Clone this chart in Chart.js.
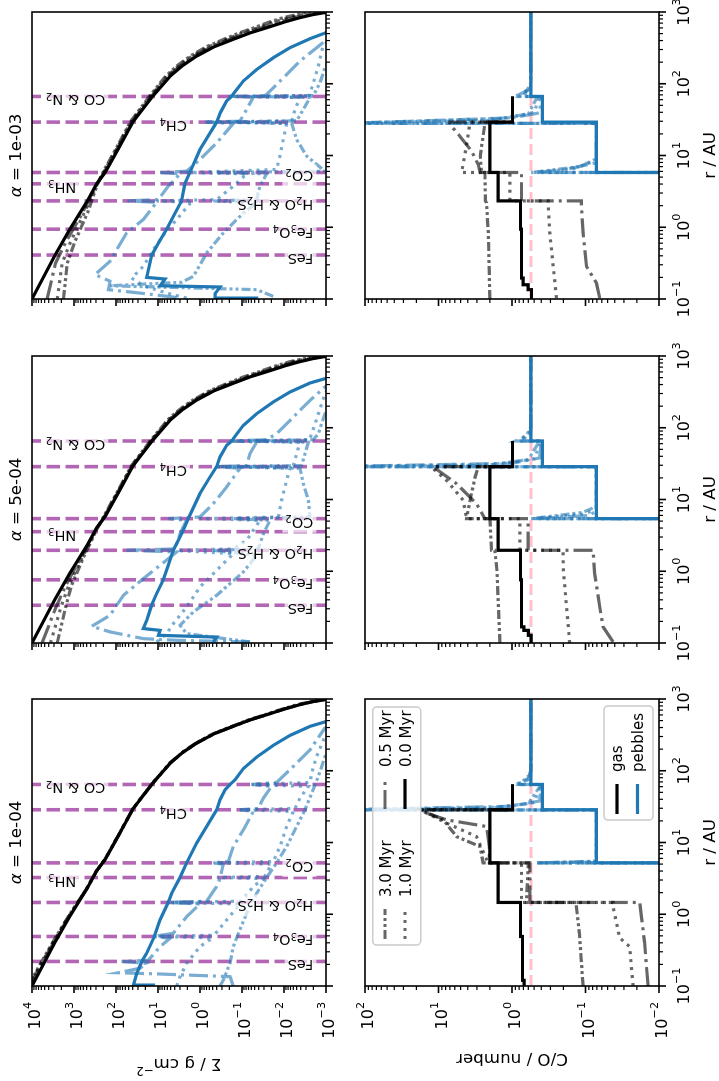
<!DOCTYPE html>
<html>
<head>
<meta charset="utf-8">
<title>Gas and pebble surface density, C/O</title>
<script src="https://cdn.jsdelivr.net/npm/chart.js@4.4.1/dist/chart.umd.min.js"></script>
<style>
  html, body { margin: 0; padding: 0; background: #fff; width: 719px; height: 1081px; overflow: hidden; }
  #fig { position: absolute; left: 0; top: 0; width: 1081px; height: 719px; background: #fff;
         transform-origin: 0 0; transform: translateY(1081px) rotate(-90deg); }
  #fig canvas { position: absolute; }
</style>
</head>
<body>
<div id="fig"></div>
<script>
// ── axes ──────────────────────────────────────────────────────────────────
const rTicks     = [0.1, 1, 10, 100, 1000];
const sigmaTicks = [1e-3, 1e-2, 1e-1, 1, 10, 100, 1e3, 1e4];
const coTicks    = [1e-2, 1e-1, 1, 10, 100];

const alphaLabels = ['1e-04', '5e-04', '1e-03'];
const timeLabels  = ['3.0 Myr', '1.0 Myr', '0.5 Myr', '0.0 Myr'];
const phaseLabels = ['gas', 'pebbles'];

// ── ice lines (AU) ────────────────────────────────────────────────────────
const iceNames     = ['FeS', 'Fe₃O₄', 'H₂O & H₂S', 'NH₃', 'CO₂', 'CH₄', 'CO & N₂'];
const iceTextSigma = [0.002, 0.002, 0.002, 880, 0.002, 2.05, 180];
const iceR_1e4 = [0.22, 0.49, 1.46, 3.25, 5.2, 28.6, 64.4];
const iceR_5e4 = [0.336, 0.76, 1.96, 3.56, 5.41, 28.7, 65.4];
const iceR_1e3 = [0.41, 0.94, 2.33, 4.03, 5.8, 29.2, 66.5];
const solarCO = 0.55;

// ── gas surface density [r, sigma] ────────────────────────────────────────
const gasSig_0 = [[0.1,1.0e4],[0.41,2820],[0.94,1260],[2.33,479],[4.03,288],[5.8,182],[12.6,87],[29.2,39.8],[66.5,13.5],[128,5.1],[180,2.57],[243,1.2],[330,0.45],[416,0.162],[510,0.065],[604,0.0257],[720,0.0102],[834,0.0042],[920,0.00204],[1000,0.00089]];

const gasSig_1e4_05 = [[0.1,1.15e4],[0.41,3000],[0.94,1300],[2.33,479],[4.03,288],[5.8,182],[12.6,87],[29.2,39.8],[66.5,13.5],[128,5.1],[180,2.57],[243,1.2],[330,0.45],[416,0.162],[510,0.065],[604,0.0257],[720,0.0102],[834,0.0042],[920,0.00204],[1000,0.00089]];
const gasSig_1e4_10 = [[0.1,1.2e4],[0.41,3100],[0.94,1330],[2.33,485],[4.03,290],[5.8,183],[12.6,87.5],[29.2,40],[66.5,13.6],[128,5.15],[180,2.6],[243,1.22],[330,0.46],[416,0.166],[510,0.067],[604,0.0266],[720,0.0106],[834,0.0044],[920,0.00215],[1000,0.00094]];
const gasSig_1e4_30 = [[0.1,1.25e4],[0.41,3200],[0.94,1350],[2.33,490],[4.03,292],[5.8,184],[12.6,88],[29.2,40.3],[66.5,13.8],[128,5.25],[180,2.66],[243,1.26],[330,0.48],[416,0.175],[510,0.071],[604,0.0283],[720,0.0114],[834,0.0048],[920,0.00235],[1000,0.00104]];

const gasSig_5e4_05 = [[0.1,5750],[0.316,2690],[0.63,1580],[1.58,676],[3.7,309],[5.8,186],[12.6,89.3],[29.2,41.0],[66.5,14.0],[128,5.38],[180,2.72],[243,1.29],[330,0.486],[416,0.18],[510,0.0728],[604,0.0295],[720,0.012],[834,0.00501],[1000,0.0011]];
const gasSig_5e4_10 = [[0.1,3630],[0.316,2040],[0.63,1350],[1.58,631],[3.7,302],[5.8,191],[12.6,91.6],[29.2,42.2],[66.5,14.5],[128,5.64],[180,2.88],[243,1.38],[330,0.531],[416,0.2],[510,0.0822],[604,0.0339],[720,0.0141],[834,0.00603],[1000,0.00137]];
const gasSig_5e4_30 = [[0.1,2510],[0.316,1580],[0.63,1150],[1.58,589],[3.7,295],[5.8,196],[12.6,94],[29.2,43.4],[66.5,15.0],[128,5.92],[180,3.05],[243,1.48],[330,0.578],[416,0.221],[510,0.0927],[604,0.0389],[720,0.0166],[834,0.00724],[1000,0.00169]];

const gasSig_1e3_05 = [[0.1,4370],[0.316,2750],[0.63,1550],[1.58,631],[3.98,288],[5.8,191],[12.6,91.2],[29.2,42.2],[66.5,14.5],[128,5.62],[180,2.88],[243,1.38],[330,0.531],[416,0.2],[510,0.0822],[604,0.0339],[720,0.0141],[834,0.00603],[1000,0.00137]];
const gasSig_1e3_10 = [[0.1,2510],[0.316,1910],[0.63,1200],[1.58,575],[3.98,282],[5.8,198],[12.6,95.3],[29.2,44.1],[66.5,15.3],[128,6.05],[180,3.15],[243,1.53],[330,0.604],[416,0.233],[510,0.0986],[604,0.0417],[720,0.018],[834,0.00794],[1000,0.00189]];
const gasSig_1e3_30 = [[0.1,1780],[0.316,1450],[0.63,955],[1.58,479],[3.98,275],[5.8,206],[12.6,98.9],[29.2,46],[66.5,16.1],[128,6.52],[180,3.43],[243,1.70],[330,0.689],[416,0.272],[510,0.118],[604,0.0513],[720,0.0229],[834,0.0105],[1000,0.0026]];

// ── pebble surface density [r, sigma] ─────────────────────────────────────
const pebSig_1e4_0  = [[0.101,12.9],[0.103,38.6],[0.150,32.2],[0.219,24.5],[0.286,18.6],[0.49,12.2],[0.834,8.96],[1.46,5.68],[1.96,4.73],[3.25,2.99],[5.2,2.08],[9.8,1.2],[16.7,0.694],[28.6,0.401],[39.4,0.334],[54.3,0.254],[64.4,0.193],[74.8,0.147],[107,0.093],[155,0.0448],[226,0.018],[311,0.0072],[416,0.0024],[488,0.00096],[560,0.0004]];
const pebSig_1e4_05 = [[0.1,0.161],[0.135,0.193],[0.147,8.96],[0.153,87.9],[0.177,26.8],[0.207,18.6],[0.22,73.3],[0.228,17.0],[0.354,8.96],[0.462,5.18],[0.49,12.9],[0.543,4.32],[0.927,2.08],[1.39,1.0],[1.46,6.22],[1.52,0.694],[2.43,0.401],[3.15,0.334],[4.99,0.278],[5.2,0.482],[5.43,0.211],[8.79,0.161],[15.0,0.0929],[27.1,0.0537],[28.6,0.112],[29.8,0.0408],[41.6,0.031],[60.4,0.0197],[64.4,0.0589],[68.7,0.015],[115,0.006],[196,0.0024],[394,0.00106],[480,0.0005]];
const pebSig_1e4_10 = [[0.1,3.6],[0.135,2.99],[0.207,2.08],[0.354,1.0],[0.47,0.5],[0.49,12.9],[0.51,0.46],[0.834,0.232],[1.39,0.112],[1.46,6.22],[1.52,0.104],[2.43,0.0537],[3.15,0.031],[3.25,0.401],[3.36,0.029],[4.99,0.0197],[5.2,0.482],[5.43,0.018],[8.79,0.0125],[16.7,0.00865],[27.1,0.006],[28.6,0.112],[29.8,0.00547],[41.6,0.00416],[60.4,0.00263],[64.4,0.0589],[68.7,0.0024],[92.7,0.0022],[158,0.00167],[301,0.00106],[380,0.0008]];
const pebSig_1e4_30 = [[0.1,0.334],[0.121,0.278],[0.207,0.193],[0.354,0.161],[0.543,0.122],[1.03,0.0774],[1.96,0.0448],[3.25,0.0259],[5.2,0.015],[8.79,0.00865],[16.7,0.005],[28.6,0.00316],[48.8,0.00219],[83.4,0.00152],[158,0.00106],[200,0.0008]];

const pebSig_5e4_0  = [[0.1035,0.482],[0.121,0.401],[0.128,9.8],[0.150,8.96],[0.159,22.3],[0.207,18.6],[0.336,14.2],[0.488,10.8],[0.76,7.46],[1.21,5.68],[1.96,4.32],[3.56,2.59],[5.41,1.9],[12.1,1.0],[20.6,0.578],[28.7,0.401],[39.2,0.334],[56.9,0.232],[65.4,0.176],[76,0.147],[108,0.093],[157,0.0448],[229,0.018],[315,0.0072],[421,0.0024],[483,0.00106],[560,0.0004]];
const pebSig_5e4_05 = [[0.1035,0.0646],[0.109,3.6],[0.115,22.3],[0.143,139],[0.171,379],[0.243,139],[0.462,66.8],[0.789,22.3],[1.21,8.96],[1.86,3.6],[1.96,55.7],[2.05,3.94],[3.34,2.99],[5.13,2.08],[5.41,5.68],[5.71,1.0],[8.75,0.482],[15.0,0.232],[27.2,0.112],[28.7,0.401],[29.6,0.0774],[43.6,0.0646],[63.4,0.0448],[65.4,0.193],[68.2,0.0259],[82.8,0.015],[141,0.006],[241,0.0024],[370,0.00106],[450,0.0005]];
const pebSig_5e4_10 = [[0.1035,10.8],[0.135,6.22],[0.186,4.32],[0.318,2.08],[0.604,1.0],[1.03,0.401],[1.76,0.161],[1.96,4.32],[2.05,0.161],[2.7,0.0774],[5.13,0.0373],[5.41,1.0],[5.71,0.0136],[9.75,0.0114],[18.5,0.00865],[27.2,0.0072],[28.7,0.401],[29.6,0.006],[43.6,0.005],[62.7,0.00416],[65.4,0.193],[68.2,0.0025],[82.8,0.00219],[157,0.00152],[299,0.00106],[380,0.0008]];
const pebSig_5e4_30 = [[0.1035,0.0646],[0.135,2.08],[0.177,2.99],[0.271,1.44],[0.462,0.401],[0.977,0.093],[1.67,0.0448],[1.96,0.482],[2.05,0.0408],[3.34,0.031],[5.13,0.0215],[5.41,0.161],[5.71,0.0024],[9.75,0.00263],[16.6,0.00347],[27.2,0.00416],[28.7,0.112],[29.6,0.0038],[43.6,0.00316],[62.7,0.00263],[65.4,0.0537],[68.2,0.002],[82.8,0.00152],[157,0.00106],[200,0.0008]];

const pebSig_1e3_0  = [[0.102,0.0447],[0.103,0.437],[0.119,0.437],[0.147,0.331],[0.153,8.9],[0.19,6.8],[0.2,18.6],[0.41,14.1],[0.60,9.8],[0.94,6.2],[1.42,4.3],[2.33,2.75],[4.03,2.29],[5.8,1.74],[12.1,1.0],[20.7,0.575],[29.2,0.40],[39.4,0.33],[57.3,0.234],[66.5,0.178],[76.6,0.148],[109,0.093],[158,0.0447],[231,0.0178],[318,0.00724],[425,0.0024],[515,0.001],[630,0.00032]];
const pebSig_1e3_05 = [[0.105,3.6],[0.121,26.8],[0.135,152],[0.177,139],[0.219,316],[0.336,139],[0.834,55.7],[1.28,22.3],[2.23,10.8],[2.33,55.7],[2.43,9.8],[3.73,5.68],[5.55,2.99],[5.8,8.96],[6.04,2.08],[8.79,1.0],[15.0,0.401],[28.0,0.161],[29.2,0.76],[30.1,0.112],[43.9,0.0774],[65.2,0.0537],[66.5,0.193],[67.3,0.031],[71,0.0259],[121,0.0104],[207,0.00416],[394,0.00106],[480,0.0005]];
const pebSig_1e3_10 = [[0.103,2.08],[0.121,6.22],[0.153,22.3],[0.196,42.4],[0.286,22.3],[0.488,12.9],[0.834,6.81],[1.28,3.6],[2.14,1.73],[2.23,1.44],[2.33,10.8],[2.43,0.401],[3.73,0.161],[5.55,0.0774],[5.8,2.08],[6.38,0.015],[9.8,0.0125],[16.7,0.0104],[28.0,0.00865],[29.2,0.694],[30.5,0.00656],[43.9,0.00547],[64.4,0.00416],[66.5,0.211],[68.7,0.0025],[103,0.002],[177,0.00152],[318,0.00121],[400,0.0009]];
const pebSig_1e3_30 = [[0.109,0.018],[0.135,0.0448],[0.153,139],[0.171,2.73],[0.207,1.44],[0.438,0.694],[0.834,0.278],[1.58,0.093],[2.19,0.0448],[2.33,0.48],[2.43,0.0448],[3.73,0.0373],[5.55,0.0259],[5.8,0.4],[6.04,0.00106],[9.8,0.00288],[16.7,0.005],[28.0,0.00656],[29.2,0.161],[30.5,0.005],[43.9,0.00347],[64.4,0.0024],[66.5,0.0537],[68.7,0.002],[103,0.00139],[167,0.00106],[220,0.0008]];

// ── gas C/O [r, C/O] ──────────────────────────────────────────────────────
const gasCO_1e4_0  = [[0.1,0.684],[0.12,0.684],[0.12,0.72],[0.49,0.72],[0.49,0.766],[1.46,0.766],[1.46,1.54],[5.2,1.54],[5.2,2.0],[28.6,2.0],[28.6,0.984],[64.4,0.984]];
const gasCO_1e4_05 = [[0.1,0.0141],[0.4,0.0157],[1.0,0.0175],[1.46,0.0183],[1.46,0.573],[5.2,0.573],[5.2,2.04],[8.79,2.04],[16.7,2.22],[20.7,7.76],[25.6,14.5],[28.6,17],[28.6,0.984],[64.4,0.984]];
const gasCO_1e4_10 = [[0.1,0.0225],[0.354,0.0251],[0.47,0.0343],[1.28,0.0422],[1.46,0.0422],[1.46,0.743],[5.2,0.743],[5.2,2.11],[12.1,3.04],[18.6,7.76],[27.1,16.1],[28.6,16.1],[28.6,0.984],[64.4,0.984]];
const gasCO_1e4_30 = [[0.1,0.108],[0.543,0.121],[1.28,0.133],[1.46,0.133],[1.46,0.635],[5.2,0.6],[5.2,2.47],[8.79,2.73],[12.1,5.68],[20.7,8.6],[28.0,17],[28.6,17],[28.6,0.984],[64.4,0.984]];

const gasCO_5e4_0  = [[0.1,0.55],[0.128,0.55],[0.128,0.6],[0.150,0.6],[0.150,0.69],[0.168,0.69],[0.168,0.743],[0.76,0.743],[0.76,0.766],[1.96,0.766],[1.96,1.54],[5.41,1.54],[5.41,2.0],[28.7,2.0],[28.7,0.984],[65.4,0.984]];
const gasCO_5e4_05 = [[0.1035,0.0422],[0.135,0.05],[0.168,0.0577],[0.318,0.064],[0.927,0.075],[1.96,0.0789],[1.96,0.603],[5.41,0.603],[5.41,2.34],[8.75,3.04],[16.6,5.68],[28.5,11.8],[28.7,11.8],[28.7,0.984],[65.4,0.984]];
const gasCO_5e4_10 = [[0.1,0.164],[0.3,0.18],[1.0,0.2],[1.96,0.202],[1.96,0.783],[5.41,0.783],[5.41,4.15],[9.75,4.61],[18.5,7.76],[26.9,11.8],[28.7,11.8],[28.7,0.984],[65.4,0.984]];
const gasCO_5e4_30 = [[0.1,1.46],[1.0,1.6],[1.96,1.71],[1.96,1.9],[5.41,2.0],[5.41,4.15],[10,3.7],[20,3.2],[28.7,2.88],[28.7,0.984],[65.4,0.984]];

const gasCO_1e3_0  = [[0.1,0.543],[0.135,0.543],[0.135,0.603],[0.158,0.603],[0.158,0.705],[0.196,0.705],[0.196,0.743],[0.94,0.743],[0.94,0.766],[2.33,0.766],[2.33,1.54],[5.8,1.54],[5.8,2.0],[29.2,2.0],[29.2,0.984],[66.5,0.984]];
const gasCO_1e3_05 = [[0.103,0.064],[0.167,0.0711],[0.286,0.097],[0.834,0.108],[2.19,0.114],[2.33,0.114],[2.33,0.743],[5.8,0.743],[5.8,2.73],[7.48,2.88],[11.5,3.55],[18.6,5.12],[27.1,7.0],[29.2,7.0],[29.2,0.984],[66.5,0.984]];
const gasCO_1e3_10 = [[0.103,0.248],[0.286,0.275],[0.834,0.306],[2.19,0.323],[2.33,0.323],[2.33,1.07],[5.8,1.07],[5.8,4.85],[13,4.2],[28.0,3.74],[29.2,3.74],[29.2,0.984],[66.5,0.984]];
const gasCO_1e3_30 = [[0.1,2.0],[0.834,2.1],[2.19,2.22],[2.33,2.3],[5.8,2.34],[5.8,2.6],[10,2.7],[28.0,2.34],[29.2,2.34],[29.2,0.984],[66.5,0.984]];

// ── pebble C/O [r, C/O] (1e-6 = no carbon, below the axis) ────────────────
const pebCO_1e4_0  = [[0.1,1e-6],[5.2,1e-6],[5.2,0.0711],[28.6,0.0711],[28.6,0.385],[64.4,0.385],[64.4,0.555],[1000,0.555]];
const pebCO_1e4_05 = [[0.1,1e-6],[5.2,1e-6],[5.2,0.49],[5.35,0.0711],[28.4,0.0711],[28.5,300],[32,1.0],[38,0.42],[64.3,0.40],[64.4,0.91],[75,0.6],[100,0.555],[1000,0.555]];
const pebCO_1e4_10 = [[0.1,1e-6],[5.2,1e-6],[5.2,0.47],[5.4,0.0711],[28.4,0.0711],[28.5,300],[31,1.5],[36,0.5],[64.3,0.40],[64.4,0.85],[80,0.58],[110,0.555],[1000,0.555]];
const pebCO_1e4_30 = [[0.1,1e-6],[5.2,1e-6],[5.2,0.45],[5.5,0.0711],[28.4,0.0711],[28.5,300],[30,2.0],[35,0.6],[64.3,0.40],[64.4,0.8],[90,0.56],[120,0.555],[1000,0.555]];

const pebCO_5e4_0  = [[0.1,1e-6],[5.41,1e-6],[5.41,0.0711],[28.7,0.0711],[28.7,0.385],[65.4,0.385],[65.4,0.555],[1000,0.555]];
const pebCO_5e4_05 = [[0.1,1e-6],[5.41,1e-6],[5.41,0.49],[6.0,0.0875],[7.0,0.0711],[28.6,0.0711],[28.7,300],[32,1.0],[38,0.42],[65.3,0.40],[65.4,0.9],[80,0.57],[100,0.555],[1000,0.555]];
const pebCO_5e4_10 = [[0.1,1e-6],[5.41,1e-6],[5.41,0.52],[6.3,0.1],[7.5,0.0711],[28.6,0.0711],[28.7,300],[31,1.4],[37,0.5],[65.3,0.40],[65.4,0.8],[90,0.56],[1000,0.555]];
const pebCO_5e4_30 = [[0.1,1e-6],[5.41,1e-6],[5.41,0.55],[6.6,0.11],[8.0,0.0711],[28.6,0.0711],[28.7,300],[30,2.2],[36,0.6],[65.3,0.42],[65.4,0.7],[100,0.56],[1000,0.555]];

const pebCO_1e3_0  = [[0.1,1e-6],[5.8,1e-6],[5.8,0.0711],[29.2,0.0711],[29.2,0.385],[66.5,0.385],[66.5,0.555],[1000,0.555]];
const pebCO_1e3_05 = [[0.1,1e-6],[5.8,1e-6],[5.8,0.465],[6.3,0.2],[7.9,0.0711],[28.0,0.0711],[28.1,150],[33.6,0.96],[39.4,0.42],[66.4,0.40],[66.5,0.914],[83,0.573],[100,0.555],[1000,0.555]];
const pebCO_1e3_10 = [[0.1,1e-6],[5.8,1e-6],[5.8,0.5],[6.5,0.15],[8.5,0.0711],[28.0,0.0711],[28.1,200],[33,1.2],[40,0.5],[66.4,0.42],[66.5,0.8],[90,0.56],[1000,0.555]];
const pebCO_1e3_30 = [[0.1,1e-6],[5.8,1e-6],[5.8,0.55],[7,0.12],[9,0.0711],[28.0,0.0711],[28.1,300],[31,2.0],[38,0.6],[66.4,0.45],[66.5,0.7],[100,0.56],[1000,0.555]];

// ── styles ────────────────────────────────────────────────────────────────
const FONT = 'DejaVu Sans';
const C0 = '#1f77b4';
const GAS_FADE = 'rgba(0,0,0,0.6)';
const PEB_FADE = 'rgba(31,119,180,0.6)';
const DASHES = [[9, 3, 3, 3, 3, 3], [3, 5], [19, 5, 3, 5], []];   // 3.0, 1.0, 0.5, 0.0 Myr
const LW = 3.2;

// panel geometry inside the (unrotated) 1081 x 719 figure
const COLS = [95, 438, 782];
const ROWS = [32, 365];
const PW = 287, PH = 294;
const PAD = { l: 90, t: 32, r: 24, b: 62 };

// ── small rich-text helper: sub/superscript digits drawn like mathtext ──
const SUBS = { '₀': '0', '₁': '1', '₂': '2', '₃': '3', '₄': '4' };
const SUPS = { '⁻': '−', '⁰': '0', '¹': '1', '²': '2', '³': '3', '⁴': '4' };
function runs(str) {
  const out = [];
  for (const ch of str) {
    const kind = SUBS[ch] ? -1 : (SUPS[ch] ? 1 : 0);
    const c = kind < 0 ? SUBS[ch] : (kind > 0 ? SUPS[ch] : ch);
    if (out.length && out[out.length - 1].k === kind) out[out.length - 1].t += c;
    else out.push({ k: kind, t: c });
  }
  return out;
}
function richWidth(ctx, str, size) {
  let w = 0;
  runs(str).forEach(r => { ctx.font = (r.k ? size * 0.7 : size) + 'px ' + FONT; w += ctx.measureText(r.t).width; });
  return w;
}
function richText(ctx, str, x, y, size, supRaise) {
  let cx = x;
  runs(str).forEach(r => {
    ctx.font = (r.k ? size * 0.7 : size) + 'px ' + FONT;
    const dy = r.k > 0 ? -supRaise : (r.k < 0 ? size * 0.2 : 0);
    ctx.fillText(r.t, cx, y + dy);
    cx += ctx.measureText(r.t).width;
  });
  return cx - x;
}

const SUPCH = { '-': '⁻', '0': '⁰', '1': '¹', '2': '²', '3': '³', '4': '⁴' };
const pow10 = v => '10' + String(Math.round(Math.log10(v))).split('').map(c => SUPCH[c]).join('');

function logMarks(min, max) {
  const out = [];
  for (let e = Math.floor(Math.log10(min)); e <= Math.ceil(Math.log10(max)); e++) {
    for (let m = 1; m < 10; m++) {
      const v = m * Math.pow(10, e);
      if (v >= min * 0.999 && v <= max * 1.001) out.push([v, m === 1]);
    }
  }
  return out;
}

function curve(pts, color, dash, order) {
  return {
    data: pts.map(p => ({ x: p[0], y: p[1] })),
    borderColor: color, borderWidth: LW, borderDash: dash,
    pointRadius: 0, fill: false, tension: 0, order: order, clip: 0
  };
}

function drawHandle(ctx, x0, x1, y, color, dash) {
  ctx.save();
  ctx.strokeStyle = color; ctx.lineWidth = LW; ctx.setLineDash(dash);
  ctx.beginPath(); ctx.moveTo(x0, y); ctx.lineTo(x1, y); ctx.stroke();
  ctx.restore();
}

function legendBox(ctx, x, y, w, h) {
  ctx.save();
  ctx.beginPath();
  ctx.roundRect(x, y, w, h, 4);
  ctx.fillStyle = 'rgba(255,255,255,0.8)';
  ctx.fill();
  ctx.strokeStyle = '#cccccc'; ctx.lineWidth = 1.6;
  ctx.stroke();
  ctx.restore();
}

// ── decorations: ice labels, ticks, frame, titles, legends ────────────────
const decor = {
  id: 'decor',
  afterDatasetsDraw(chart, args, o) {
    if (!o.ice) return;
    const { ctx, scales: { x, y } } = chart;
    ctx.save();
    o.ice.forEach((r, i) => {
      const px = x.getPixelForValue(r) + 1;
      const py = y.getPixelForValue(iceTextSigma[i]);
      const w = richWidth(ctx, iceNames[i], 14.5);
      ctx.save();
      ctx.translate(px, py);
      ctx.rotate(-Math.PI / 2);
      ctx.fillStyle = 'rgba(255,255,255,0.7)';
      ctx.fillRect(-3, -15, w + 6, 22);
      ctx.fillStyle = '#000';
      richText(ctx, iceNames[i], 0, 0, 14.5, 0);
      ctx.restore();
    });
    ctx.restore();
  },
  afterDraw(chart, args, o) {
    const { ctx, chartArea: a, scales: { x, y } } = chart;
    ctx.save();
    ctx.strokeStyle = '#000';
    logMarks(x.min, x.max).forEach(([v, major]) => {
      const p = x.getPixelForValue(v);
      ctx.lineWidth = major ? 1.6 : 1.2;
      ctx.beginPath(); ctx.moveTo(p, a.bottom); ctx.lineTo(p, a.bottom + (major ? 7 : 4)); ctx.stroke();
    });
    logMarks(y.min, y.max).forEach(([v, major]) => {
      const p = y.getPixelForValue(v);
      ctx.lineWidth = major ? 1.6 : 1.2;
      ctx.beginPath(); ctx.moveTo(a.left, p); ctx.lineTo(a.left - (major ? 7 : 4), p); ctx.stroke();
    });
    ctx.lineWidth = 1.6;
    ctx.strokeRect(a.left, a.top, a.right - a.left, a.bottom - a.top);

    // tick labels from the scales' own ticks
    ctx.fillStyle = '#000';
    if (o.xLabels) {
      x.ticks.forEach(t => {
        const s = pow10(t.value), w = richWidth(ctx, s, 16);
        richText(ctx, s, x.getPixelForValue(t.value) - w / 2, a.bottom + 30, 16, 9);
      });
    }
    if (o.yLabels) {
      y.ticks.forEach(t => {
        const s = pow10(t.value), w = richWidth(ctx, s, 16);
        richText(ctx, s, a.left - 16 - w, y.getPixelForValue(t.value) + 8, 16, 9);
      });
    }

    const cx = (a.left + a.right) / 2, cy = (a.top + a.bottom) / 2;
    if (o.title) {
      ctx.font = 'italic 16.7px ' + FONT;
      const wa = ctx.measureText('α').width;
      ctx.font = '16.7px ' + FONT;
      const rest = ' = ' + o.title;
      const wr = ctx.measureText(rest).width;
      const x0 = cx - (wa + wr) / 2, yb = a.top - 11;
      ctx.font = 'italic 16.7px ' + FONT; ctx.fillText('α', x0, yb);
      ctx.font = '16.7px ' + FONT; ctx.fillText(rest, x0 + wa, yb);
    }
    if (o.xTitle) {
      const w = richWidth(ctx, o.xTitle, 16.7);
      richText(ctx, o.xTitle, cx - w / 2, a.bottom + 56, 16.7, 9);
    }
    if (o.yTitle) {
      ctx.save();
      ctx.translate(a.left - o.yTitleOff, cy);
      ctx.rotate(-Math.PI / 2);
      const w = richWidth(ctx, o.yTitle, 16.7);
      richText(ctx, o.yTitle, -w / 2, 0, 16.7, 8);
      ctx.restore();
    }

    if (o.legends) {
      ctx.font = '15px ' + FONT;
      // time legend, two columns, upper right
      legendBox(ctx, a.left + 41, a.top + 7.7, 238, 48);
      const cols = [[47, 77, 89], [177, 207, 219]];
      timeLabels.forEach((t, i) => {
        const c = cols[Math.floor(i / 2)], row = i % 2;
        const color = i === 3 ? '#000' : GAS_FADE;
        drawHandle(ctx, a.left + c[0], a.left + c[1], a.top + 20 + row * 20, color, DASHES[i]);
        ctx.fillStyle = '#000';
        ctx.font = '15px ' + FONT;
        ctx.fillText(t, a.left + c[2], a.top + 26 + row * 20);
      });
      // phase legend, lower right
      legendBox(ctx, a.left + 166, a.top + 239, 114, 49);
      phaseLabels.forEach((t, i) => {
        drawHandle(ctx, a.left + 172, a.left + 202, a.top + 252 + i * 20.5, i ? C0 : '#000', []);
        ctx.fillStyle = '#000';
        ctx.font = '15px ' + FONT;
        ctx.fillText(t, a.left + 214, a.top + 257 + i * 20.5);
      });
    }
    ctx.restore();
  }
};

// ── build the six panels ──────────────────────────────────────────────────
const fig = document.getElementById('fig');

function panel(col, row, datasets, yTicks, extra) {
  const cv = document.createElement('canvas');
  const w = PW + PAD.l + PAD.r, h = PH + PAD.t + PAD.b;
  cv.width = w; cv.height = h;
  cv.style.left = (COLS[col] - PAD.l) + 'px';
  cv.style.top = (ROWS[row] - PAD.t) + 'px';
  cv.style.width = w + 'px'; cv.style.height = h + 'px';
  fig.appendChild(cv);
  extra.xLabels = row === 1;
  extra.yLabels = col === 0;
  return new Chart(cv, {
    type: 'line',
    data: { datasets },
    options: {
      responsive: false, animation: false, devicePixelRatio: 1, events: [],
      layout: { padding: { top: PAD.t, right: PAD.r, left: 0, bottom: 0 } },
      scales: {
        x: {
          type: 'logarithmic', position: 'bottom', min: rTicks[0], max: rTicks[rTicks.length - 1],
          afterFit: s => { s.height = PAD.b; },
          afterBuildTicks: s => { s.ticks = rTicks.map(v => ({ value: v })); },
          grid: { display: false, drawTicks: false }, border: { display: false },
          ticks: { display: false }
        },
        y: {
          type: 'logarithmic', position: 'left', min: yTicks[0], max: yTicks[yTicks.length - 1],
          afterFit: s => { s.width = PAD.l; },
          afterBuildTicks: s => { s.ticks = yTicks.map(v => ({ value: v })); },
          grid: { display: false, drawTicks: false }, border: { display: false },
          ticks: { display: false }
        }
      },
      plugins: { legend: { display: false }, tooltip: { enabled: false }, title: { display: false },
                 decor: extra }
    },
    plugins: [decor]
  });
}

const sets = [
  { ice: iceR_1e4,
    gas: [gasSig_1e4_30, gasSig_1e4_10, gasSig_1e4_05, gasSig_0],
    peb: [pebSig_1e4_30, pebSig_1e4_10, pebSig_1e4_05, pebSig_1e4_0],
    gco: [gasCO_1e4_30, gasCO_1e4_10, gasCO_1e4_05, gasCO_1e4_0],
    pco: [pebCO_1e4_30, pebCO_1e4_10, pebCO_1e4_05, pebCO_1e4_0] },
  { ice: iceR_5e4,
    gas: [gasSig_5e4_30, gasSig_5e4_10, gasSig_5e4_05, gasSig_0],
    peb: [pebSig_5e4_30, pebSig_5e4_10, pebSig_5e4_05, pebSig_5e4_0],
    gco: [gasCO_5e4_30, gasCO_5e4_10, gasCO_5e4_05, gasCO_5e4_0],
    pco: [pebCO_5e4_30, pebCO_5e4_10, pebCO_5e4_05, pebCO_5e4_0] },
  { ice: iceR_1e3,
    gas: [gasSig_1e3_30, gasSig_1e3_10, gasSig_1e3_05, gasSig_0],
    peb: [pebSig_1e3_30, pebSig_1e3_10, pebSig_1e3_05, pebSig_1e3_0],
    gco: [gasCO_1e3_30, gasCO_1e3_10, gasCO_1e3_05, gasCO_1e3_0],
    pco: [pebCO_1e3_30, pebCO_1e3_10, pebCO_1e3_05, pebCO_1e3_0] }
];

function timeSets(gas, peb) {
  const out = [];
  gas.forEach((g, i) => out.push(curve(g, i === 3 ? '#000' : GAS_FADE, DASHES[i], i === 3 ? 1 : 3)));
  peb.forEach((p, i) => out.push(curve(p, i === 3 ? C0 : PEB_FADE, DASHES[i], i === 3 ? 2 : 4)));
  return out;
}

sets.forEach((s, col) => {
  const sigSets = timeSets(s.gas, s.peb);
  s.ice.forEach(r => sigSets.push({
    data: [{ x: r, y: sigmaTicks[0] }, { x: r, y: sigmaTicks[sigmaTicks.length - 1] }],
    borderColor: 'rgba(128,0,128,0.6)', borderWidth: 3.6, borderDash: [13.5, 5.5],
    pointRadius: 0, fill: false, order: 10, clip: 0
  }));
  panel(col, 0, sigSets, sigmaTicks, {
    ice: s.ice, title: alphaLabels[col],
    yTitle: col === 0 ? 'Σ / g cm⁻²' : null, yTitleOff: 73
  });

  const coSets = timeSets(s.gco, s.pco);
  coSets.push({
    data: [{ x: rTicks[0], y: solarCO }, { x: rTicks[rTicks.length - 1], y: solarCO }],
    borderColor: 'pink', borderWidth: 3, borderDash: [11, 5],
    pointRadius: 0, fill: false, order: 10, clip: 0
  });
  panel(col, 1, coSets, coTicks, {
    xTitle: 'r / AU', yTitle: col === 0 ? 'C/O / number' : null, yTitleOff: 68.5,
    legends: col === 0
  });
});
</script>
</body>
</html>
